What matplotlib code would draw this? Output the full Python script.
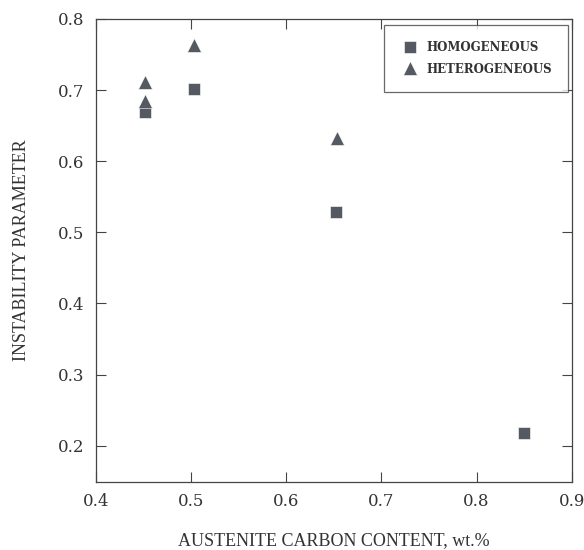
import numpy as np
import matplotlib.pyplot as plt

# homogeneous (squares)
homo_x = [0.452, 0.503, 0.652, 0.850]
homo_y = [0.669, 0.701, 0.528, 0.218]
# heterogeneous (triangles)
hetero_x = [0.452, 0.452, 0.503, 0.653]
hetero_y = [0.712, 0.685, 0.763, 0.633]

xticks = [0.4, 0.5, 0.6, 0.7, 0.8, 0.9]
yticks = [0.2, 0.3, 0.4, 0.5, 0.6, 0.7, 0.8]

fig = plt.figure(figsize=(5.84, 5.5), dpi=100)
ax = fig.add_axes([0.164, 0.1236, 0.815, 0.842])

mc = '#555a62'
ax.plot(homo_x, homo_y, 's', color=mc, markersize=8.5, markeredgecolor='white',
        markeredgewidth=0.4, label='HOMOGENEOUS')
ax.plot(hetero_x, hetero_y, '^', color=mc, markersize=10, markeredgecolor='white',
        markeredgewidth=0.4, label='HETEROGENEOUS')

ax.set_xlim(0.4, 0.9)
ax.set_ylim(0.149, 0.8)
ax.set_xticks(xticks)
ax.set_yticks(yticks)
ax.set_xticklabels(['%.1f' % v for v in xticks], family='DejaVu Serif', size=12, color='#333')
ax.set_yticklabels(['%.1f' % v for v in yticks], family='DejaVu Serif', size=12, color='#333')
ax.tick_params(direction='in', top=True, right=True, length=7, width=0.8, pad=8, color='#444')
for s in ax.spines.values():
    s.set_color('#444')
    s.set_linewidth(0.9)

ax.set_xlabel('AUSTENITE CARBON CONTENT, wt.%', family='Liberation Serif', size=13,
              color='#333', labelpad=16)
ax.set_ylabel('INSTABILITY PARAMETER', family='Liberation Serif', size=13,
              color='#333', labelpad=20)

leg = ax.legend(loc='upper right', bbox_to_anchor=(1.0, 0.995), fancybox=False,
                prop={'family': 'DejaVu Serif', 'weight': 'bold', 'size': 8.5},
                borderpad=1.4, handletextpad=0.6, handlelength=1.6, labelspacing=0.7,
                borderaxespad=0.3)
leg.get_frame().set_edgecolor('#444')
leg.get_frame().set_linewidth(0.9)
for t in leg.get_texts():
    t.set_color('#333')

plt.savefig('out.png', dpi=100)
